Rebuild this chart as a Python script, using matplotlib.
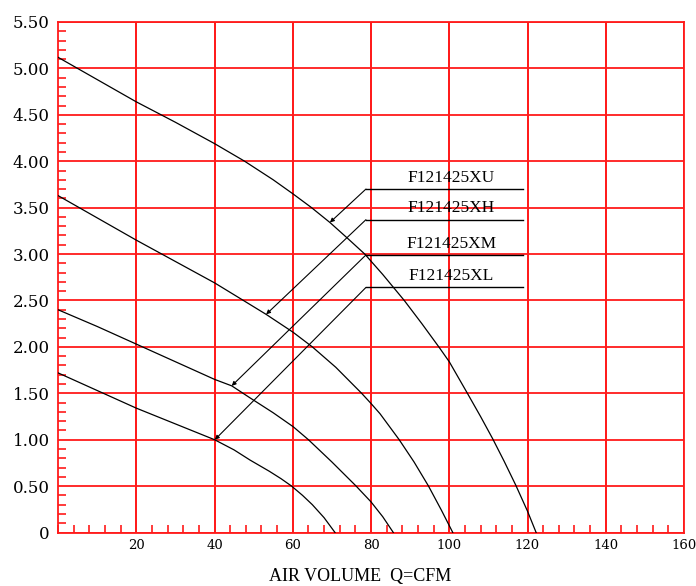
import numpy as np
import matplotlib.pyplot as plt
from matplotlib.ticker import MultipleLocator, FixedLocator

# curve data (air volume CFM, static pressure)
xu_x = [0, 10, 20, 30, 40, 47.7, 55, 60, 64.8, 69.5, 74, 78.4, 83, 88.5, 93,
        97.5, 100, 104.5, 108, 111.1, 114, 117, 120, 122.2]
xu_y = [5.12, 4.88, 4.64, 4.42, 4.19, 4.00, 3.80, 3.65, 3.50, 3.34, 3.17, 3.00,
        2.78, 2.50, 2.25, 1.99, 1.84, 1.51, 1.25, 1.01, 0.77, 0.51, 0.23, 0]
xh_x = [0, 10, 20, 30, 40, 47, 53.2, 60, 65, 71, 77.6, 80, 82.3, 87.2, 91,
        94.7, 98, 100.9]
xh_y = [3.63, 3.39, 3.15, 2.92, 2.69, 2.51, 2.35, 2.16, 2.00, 1.78, 1.50, 1.39,
        1.28, 1.00, 0.76, 0.50, 0.24, 0]
xm_x = [0, 10, 20, 30, 40, 44.4, 49.1, 55, 60.1, 64, 70, 76.2, 80, 83, 85.7]
xm_y = [2.40, 2.22, 2.03, 1.84, 1.65, 1.58, 1.45, 1.29, 1.14, 1.00, 0.76, 0.50,
        0.33, 0.17, 0]
xl_x = [0, 10, 20, 30, 40, 45, 49.1, 54, 57, 59.7, 62.5, 65, 68, 70.8]
xl_y = [1.72, 1.53, 1.34, 1.17, 1.00, 0.89, 0.78, 0.66, 0.58, 0.50, 0.40, 0.30,
        0.16, 0]

labels = ['F121425XU', 'F121425XH', 'F121425XM', 'F121425XL']
label_y = [3.70, 3.37, 2.99, 2.64]
arrow_pts = [(69.5, 3.34), (53.2, 2.35), (44.4, 1.58), (40.1, 1.00)]

yticks = [0, 0.5, 1, 1.5, 2, 2.5, 3, 3.5, 4, 4.5, 5, 5.5]
ytick_labels = ['0', '0.50', '1.00', '1.50', '2.00', '2.50', '3.00', '3.50',
                '4.00', '4.50', '5.00', '5.50']
xticks = [20, 40, 60, 80, 100, 120, 140, 160]

red = '#ff1a1a'
plt.rcParams['font.family'] = ['Liberation Serif', 'DejaVu Serif']

fig = plt.figure(figsize=(6.96, 5.86), dpi=100)
ax = fig.add_axes([58/696, 1-532.5/586, 626/696, 510.5/586])

for xs, ys in [(xu_x, xu_y), (xh_x, xh_y), (xm_x, xm_y), (xl_x, xl_y)]:
    ax.plot(xs, ys, color='black', lw=0.9, zorder=3)

# label underlines and leaders
for lab, ly, (ax_, ay) in zip(labels, label_y, arrow_pts):
    ax.plot([78.7, 118.8], [ly, ly], color='black', lw=1.0, zorder=3)
    ax.annotate('', xy=(ax_, ay), xytext=(78.7, ly),
                arrowprops=dict(arrowstyle='-|>', color='black', lw=0.8,
                                mutation_scale=6, shrinkA=0, shrinkB=0),
                zorder=3)
    ax.text(100.5, ly + 0.035, lab, ha='center', va='bottom', fontsize=12.5,
            zorder=3)

ax.set_xlim(0, 160)
ax.set_ylim(0, 5.5)
ax.xaxis.set_major_locator(FixedLocator(xticks))
ax.set_xticklabels([str(v) for v in xticks], family='DejaVu Serif')
ax.yaxis.set_major_locator(FixedLocator(yticks))
ax.set_yticklabels(ytick_labels, family='DejaVu Serif')
ax.xaxis.set_minor_locator(MultipleLocator(4))
ax.yaxis.set_minor_locator(MultipleLocator(0.1))
ax.grid(True, which='major', color=red, lw=1.3, zorder=1)
ax.vlines(xticks, 0, 5.5, color=red, lw=1.3, zorder=1)
ax.tick_params(which='major', length=0)
ax.tick_params(axis='y', which='major', labelsize=12, pad=6)
ax.tick_params(axis='x', which='major', labelsize=9.5, pad=5)
ax.tick_params(which='minor', direction='in', length=6, width=1.2, color=red)
for s in ax.spines.values():
    s.set_color(red)
    s.set_linewidth(1.3)

fig.text(360/696, 1-581/586, 'AIR VOLUME  Q=CFM', ha='center', va='baseline',
         fontsize=13)
fig.text(250/696, 1.006, '(mmH$_2$O)', ha='center', va='baseline', fontsize=12)

fig.savefig('out.png', dpi=100)
